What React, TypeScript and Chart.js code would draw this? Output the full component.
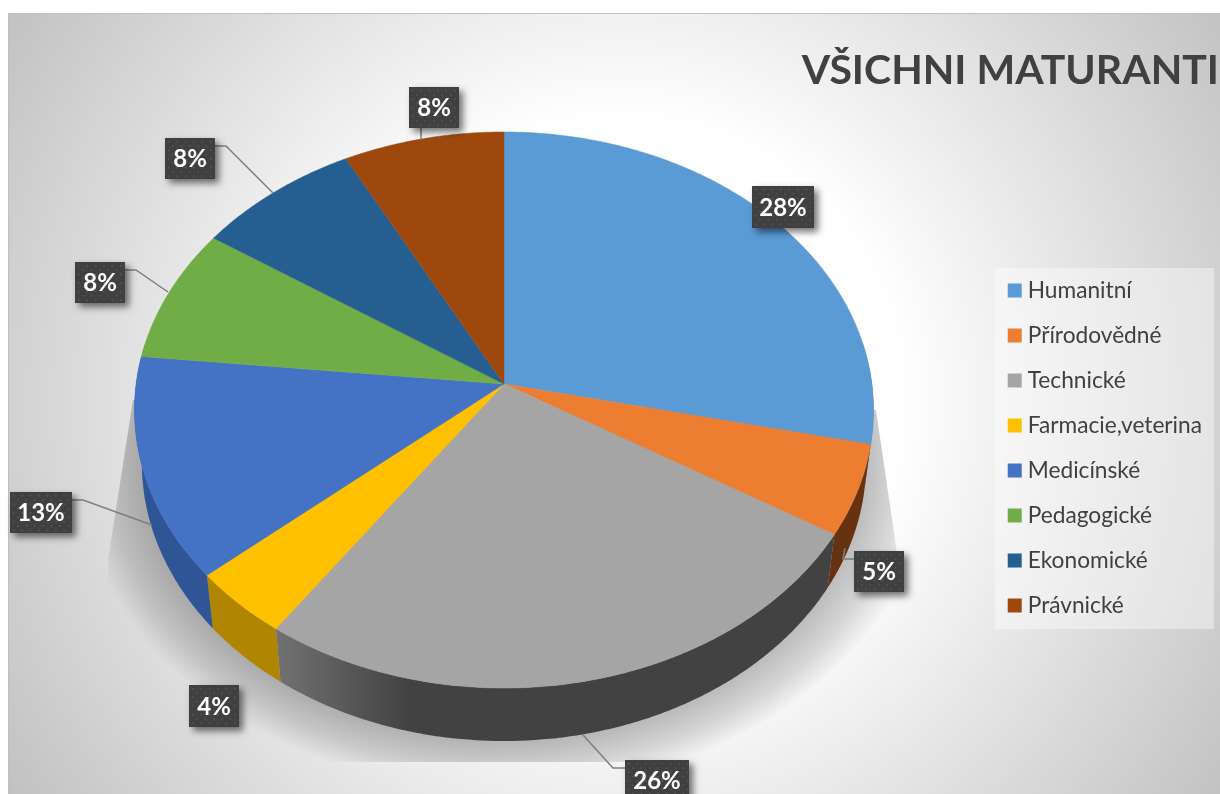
import React, { useEffect, useRef } from "react";
import { Chart, registerables } from "chart.js";

Chart.register(...registerables);

const titleText = "VŠICHNI MATURANTI";
const categories = ["Humanitní", "Přírodovědné", "Technické", "Farmacie,veterina", "Medicínské", "Pedagogické", "Ekonomické", "Právnické"];
const shares = [28.45, 5.25, 26.0, 4.0, 12.9, 7.8, 7.9, 7.7];
const topColors = ["#5b9bd5", "#ed7d31", "#a5a5a5", "#ffc000", "#4472c4", "#70ad47", "#255e91", "#9e480e"];
const sideColors = ["#3f6f9c", "#66320f", "#424242", "#b08600", "#2f5597", "#4e7a32", "#1a4266", "#6e320a"];

// label layout: box x, y, width, height, then the leader polyline
const labelBoxes: [number, number, number, number][] = [
  [752, 186, 62, 42], [854, 551, 50, 41], [625, 760, 64, 41], [189, 685, 50, 42],
  [10, 492, 62, 41], [75, 262, 50, 41], [165, 138, 50, 41], [409, 87, 50, 41],
];
const leaders: number[][] = [
  [], [854, 559, 843, 559, 845, 548], [625, 768, 613, 768, 583, 735], [],
  [72, 500, 83, 500, 152, 525], [125, 270, 136, 270, 168, 292], [215, 146, 226, 146, 273, 193], [421, 128, 421, 140],
];

// perspective of the pie's top face
const CX = 504, CY = 384, K = 0.0935, A = 275.6, C = 367.9;
const project = (t: number): [number, number] => {
  const u = Math.cos(t), v = Math.sin(t), w = 1 - K * v;
  return [CX + (C * u) / w, CY + (A * v) / w];
};
const DEPTH = 53, SHRINK = 0.98;
const lower = (p: [number, number]): [number, number] => [CX + (p[0] - CX) * SHRINK, p[1] + DEPTH];

const rimPoints = (a: number, b: number) => {
  const n = Math.max(2, Math.ceil((b - a) / 0.008));
  const pts: [number, number][] = [];
  for (let i = 0; i <= n; i++) pts.push(project(a + ((b - a) * i) / n));
  return pts;
};

const scene = {
  id: "scene",
  afterLayout(chart: any) {
    const l = chart.legend;
    l.left -= 7;
    l.right -= 7;
    l.top += 51;
    l.bottom += 51;
  },
  beforeDraw(chart: any) {
    const { ctx } = chart;
    ctx.save();
    const g = ctx.createRadialGradient(620, 400, 280, 620, 400, 735);
    g.addColorStop(0, "#ffffff");
    g.addColorStop(1, "#c0c0c0");
    ctx.fillStyle = g;
    ctx.fillRect(8, 13, 1212, 781);
    ctx.fillStyle = "#bfbfbf";
    ctx.fillRect(8, 13, 1212, 1);
    ctx.fillRect(8, 13, 1, 781);
    ctx.fillStyle = "rgba(255,255,255,0.4)";
    ctx.fillRect(995, 268, 219, 361);
    ctx.restore();
  },
  beforeDatasetsDraw(chart: any) {
    const { ctx } = chart;
    const arcs = chart.getDatasetMeta(0).data;
    // cast shadow
    ctx.save();
    ctx.beginPath();
    ctx.moveTo(133, 400);
    ctx.lineTo(108, 560);
    ctx.lineTo(108, 762);
    ctx.lineTo(898, 762);
    ctx.lineTo(898, 560);
    ctx.lineTo(876, 410);
    ctx.closePath();
    ctx.clip();
    ctx.translate(CX, 463);
    ctx.scale(362, 278);
    const sh = ctx.createRadialGradient(0, 0, 0.9, 0, 0, 1.18);
    sh.addColorStop(0, "rgba(0,0,0,0.3)");
    sh.addColorStop(0.36, "rgba(0,0,0,0.26)");
    sh.addColorStop(0.7, "rgba(0,0,0,0.14)");
    sh.addColorStop(1, "rgba(0,0,0,0)");
    ctx.fillStyle = sh;
    ctx.fillRect(-2, -2, 4, 4);
    ctx.restore();
    // walls
    arcs.forEach((arc: any, i: number) => {
      const lo = Math.max(arc.startAngle, -0.15);
      const hi = Math.min(arc.endAngle, Math.PI + 0.15);
      if (hi <= lo) return;
      const pts = rimPoints(lo, hi);
      ctx.beginPath();
      pts.forEach((p, j) => (j ? ctx.lineTo(p[0], p[1]) : ctx.moveTo(p[0], p[1])));
      pts.slice().reverse().forEach((p) => {
        const q = lower(p);
        ctx.lineTo(q[0], q[1]);
      });
      ctx.closePath();
      if (i === 2) {
        const g = ctx.createLinearGradient(275, 0, 410, 0);
        g.addColorStop(0, "#727272");
        g.addColorStop(1, sideColors[i]);
        ctx.fillStyle = g;
      } else {
        ctx.fillStyle = sideColors[i];
      }
      ctx.fill();
    });
    // top faces
    arcs.forEach((arc: any, i: number) => {
      const pts = rimPoints(arc.startAngle, arc.endAngle);
      ctx.beginPath();
      ctx.moveTo(CX, CY);
      pts.forEach((p) => ctx.lineTo(p[0], p[1]));
      ctx.closePath();
      ctx.fillStyle = topColors[i];
      ctx.strokeStyle = topColors[i];
      ctx.lineWidth = 0.5;
      ctx.fill();
      ctx.stroke();
    });
    return false;
  },
  afterDraw(chart: any) {
    const { ctx } = chart;
    ctx.save();
    ctx.strokeStyle = "#7f7f7f";
    ctx.lineWidth = 1.5;
    leaders.forEach((l) => {
      if (!l.length) return;
      ctx.beginPath();
      ctx.moveTo(l[0], l[1]);
      for (let i = 2; i < l.length; i += 2) ctx.lineTo(l[i], l[i + 1]);
      ctx.stroke();
    });
    shares.forEach((s, i) => {
      const [x, y, w, h] = labelBoxes[i];
      ctx.save();
      ctx.shadowColor = "rgba(0,0,0,0.55)";
      ctx.shadowBlur = 7;
      ctx.shadowOffsetX = 4;
      ctx.shadowOffsetY = 4;
      ctx.fillStyle = "#404040";
      ctx.fillRect(x, y, w, h);
      ctx.restore();
      ctx.fillStyle = "#585858";
      for (let r = 0, yy = y + 3; yy < y + h - 1; r++, yy += 4.3) {
        for (let xx = x + 3 + (r % 2 ? 4.2 : 0); xx < x + w - 1; xx += 8.4) ctx.fillRect(xx, yy, 1.5, 1.5);
      }
      ctx.fillStyle = "#ffffff";
      ctx.font = "700 24px Lato";
      ctx.textAlign = "center";
      ctx.textBaseline = "middle";
      ctx.fillText(`${Math.round(s)}%`, x + w / 2, y + h / 2 + 1);
    });
    ctx.restore();
  },
};

export default function App() {
  const ref = useRef<HTMLCanvasElement>(null);
  useEffect(() => {
    document.body.style.overflow = "hidden";
    const chart = new Chart(ref.current!, {
      type: "pie",
      data: {
        labels: categories,
        datasets: [{ data: shares, backgroundColor: topColors, borderWidth: 0 }],
      },
      plugins: [scene],
      options: {
        animation: false,
        responsive: false,
        devicePixelRatio: 1,
        layout: { padding: { top: 0, right: 1, bottom: 0, left: 0 } },
        plugins: {
          tooltip: { enabled: false },
          title: {
            display: true,
            text: titleText,
            align: "end",
            color: "#404040",
            font: { family: "Lato", weight: "700", size: 41 },
            padding: { top: 46, bottom: 10 },
          },
          legend: {
            position: "right",
            labels: {
              color: "#404040",
              font: { family: "Lato", size: 22.7 },
              usePointStyle: true,
              pointStyle: "rect",
              boxWidth: 3.3,
              boxHeight: 14,
              padding: 22.3,
            },
          },
        },
      } as any,
    });
    return () => chart.destroy();
  }, []);
  return <canvas ref={ref} width={1220} height={794} style={{ position: "fixed", left: 0, top: 0 }} />;
}
